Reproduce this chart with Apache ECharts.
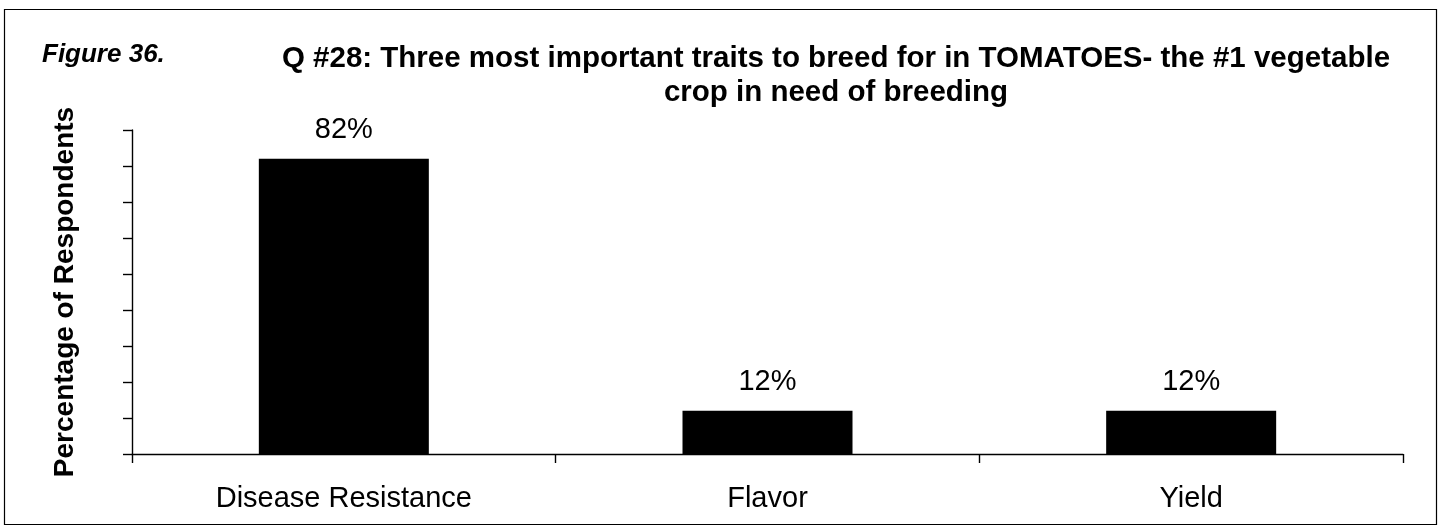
<!DOCTYPE html>
<html>
<head>
<meta charset="utf-8">
<script src="https://cdn.jsdelivr.net/npm/echarts@6/dist/echarts.min.js"></script>
<style>
html,body{margin:0;padding:0;background:#fff;}
#chart{width:1440px;height:529px;}
</style>
</head>
<body>
<div id="chart"></div>
<script>
const categories = ['Disease Resistance', 'Flavor', 'Yield'];
const values = [82, 12, 12];
const yTicks = [0, 10, 20, 30, 40, 50, 60, 70, 80, 90];

const FONT = '"Liberation Sans", Arial, Helvetica, sans-serif';
const chart = echarts.init(document.getElementById('chart'));
chart.setOption({
  backgroundColor: '#fff',
  animation: false,
  title: [
    {
      text: 'Figure 36.',
      left: 37, top: 37,
      textStyle: {fontFamily: FONT, fontSize: 26, fontWeight: 'bold', fontStyle: 'italic', color: '#000'}
    },
    {
      text: 'Q #28: Three most important traits to breed for in TOMATOES- the #1 vegetable\ncrop in need of breeding',
      left: 831, top: 37, textAlign: 'center',
      textStyle: {fontFamily: FONT, fontSize: 29.5, fontWeight: 'bold', color: '#000', lineHeight: 34, align: 'center'}
    }
  ],
  graphic: [{
    type: 'rect',
    shape: {x: 4.5, y: 9.5, width: 1432, height: 515},
    style: {fill: 'none', stroke: '#000', lineWidth: 1.2},
    silent: true
  }],
  grid: {left: 132, right: 37, top: 130, bottom: 75, containLabel: false},
  xAxis: {
    type: 'category',
    data: categories,
    axisLine: {lineStyle: {color: '#000', width: 1.4}},
    axisTick: {show: true, length: 9, lineStyle: {color: '#000', width: 1.4}},
    axisLabel: {fontFamily: FONT, fontSize: 29, color: '#000', margin: 30}
  },
  yAxis: {
    type: 'value',
    min: yTicks[0], max: yTicks[yTicks.length - 1], interval: 10,
    name: 'Percentage of Respondents',
    nameLocation: 'middle', nameGap: 53,
    nameTextStyle: {fontFamily: FONT, fontSize: 28, fontWeight: 'bold', color: '#000'},
    axisLine: {show: true, lineStyle: {color: '#000', width: 1.4}},
    axisTick: {show: true, length: 9, lineStyle: {color: '#000', width: 1.4}},
    axisLabel: {show: false},
    splitLine: {show: false}
  },
  series: [{
    type: 'bar',
    data: values,
    barWidth: 170,
    itemStyle: {color: '#000'},
    label: {
      show: true, position: 'top', distance: 14,
      formatter: p => p.value + '%',
      fontFamily: FONT, fontSize: 29, color: '#000'
    }
  }]
});
</script>
</body>
</html>
